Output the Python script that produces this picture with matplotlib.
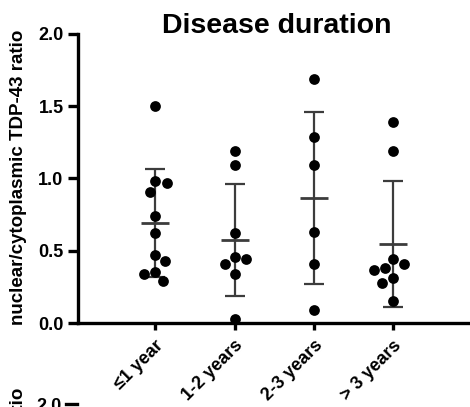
import numpy as np
import matplotlib.pyplot as plt
from matplotlib.lines import Line2D

plt.rcParams['font.family'] = ['Liberation Sans', 'DejaVu Sans']
plt.rcParams['font.weight'] = 'bold'

groups = ['≤1 year', '1-2 years', '2-3 years', '> 3 years']
upto_1y = [1.50, 0.98, 0.97, 0.91, 0.74, 0.62, 0.47, 0.43, 0.35, 0.34, 0.29]
y1_2 = [1.19, 1.09, 0.62, 0.46, 0.44, 0.41, 0.34, 0.03]
y2_3 = [1.69, 1.29, 1.09, 0.63, 0.41, 0.09]
over_3y = [1.39, 1.19, 0.44, 0.41, 0.38, 0.37, 0.31, 0.28, 0.15]
data = [upto_1y, y1_2, y2_3, over_3y]

fig = plt.figure(figsize=(4.7, 4.07), dpi=100)
ax = fig.add_axes([77.5 / 470, 84 / 407, 392.5 / 470, 289 / 407])
ax.set_xlim(-0.98, 3.97)
ax.set_ylim(0, 2.0)


def swarm(vals, xc, diam=11.5):
    # beeswarm in pixel space: each dot goes as close to the centre as it can
    placed, xs = [], []
    inv = ax.transData.inverted()
    side = 1
    for v in vals:
        px, py = ax.transData.transform((xc, v))
        cands = [0.0]
        for qx, qy in placed:
            dy = abs(py - qy)
            if dy < diam:
                dx = np.sqrt(diam ** 2 - dy ** 2) + 0.1
                cands += [qx - px + dx, qx - px - dx]
        ok = [c for c in cands
              if all(np.hypot(px + c - qx, py - qy) >= diam - 0.01 for qx, qy in placed)]
        best = min(ok, key=lambda c: (round(abs(c), 1), -side * np.sign(c)))
        if best != 0:
            side = -side
        placed.append((px + best, py))
        xs.append(inv.transform((px + best, py))[0])
    return xs


for i, vals in enumerate(data):
    vals = np.array(vals)
    m, sd = vals.mean(), vals.std(ddof=1)
    ax.errorbar(i, m, yerr=sd, fmt='none', ecolor='#3c3c3c', elinewidth=1.6,
                capsize=7.5, capthick=1.6, zorder=2)
    ax.plot(i, m, marker='_', ms=19.5, mew=2, color='#3c3c3c', zorder=2)
    ax.scatter(swarm(vals, i), vals, s=60, color='black', zorder=3, linewidths=0)

ax.spines['top'].set_visible(False)
ax.spines['right'].set_visible(False)
ax.spines['left'].set_linewidth(2.4)
ax.spines['bottom'].set_linewidth(2.4)
ax.set_yticks([0, 0.5, 1.0, 1.5, 2.0])
ax.set_yticklabels(['0.0', '0.5', '1.0', '1.5', '2.0'])
ax.set_xticks(range(len(groups)))
ax.set_xticklabels(groups, rotation=45, ha='right', rotation_mode='anchor')
ax.tick_params(axis='y', length=7, width=2.4, labelsize=13, pad=3)
ax.tick_params(axis='x', length=5, width=2.4, labelsize=13, pad=5)

fig.text(277 / 470, 1 - 33 / 407, 'Disease duration', fontsize=20.5,
         ha='center', va='baseline')
fig.text(19 / 470, 1 - 177 / 407, 'nuclear/cytoplasmic TDP-43 ratio',
         rotation=90, ha='center', va='center', fontsize=13.5)

# top edge of the panel below, cut off by the crop
fig.text(62 / 470, 1 - 398 / 407, '2.0', fontsize=13, ha='right', va='top')
fig.add_artist(Line2D([66 / 470, 77 / 470], [1 - 404 / 407] * 2, lw=2.4, color='black'))
fig.text(19 / 470, 1 - 388 / 407, 'nuclear/cytoplasmic TDP-43 ratio',
         rotation=90, ha='center', va='top', fontsize=13.5)

fig.savefig('out.png', dpi=100)
